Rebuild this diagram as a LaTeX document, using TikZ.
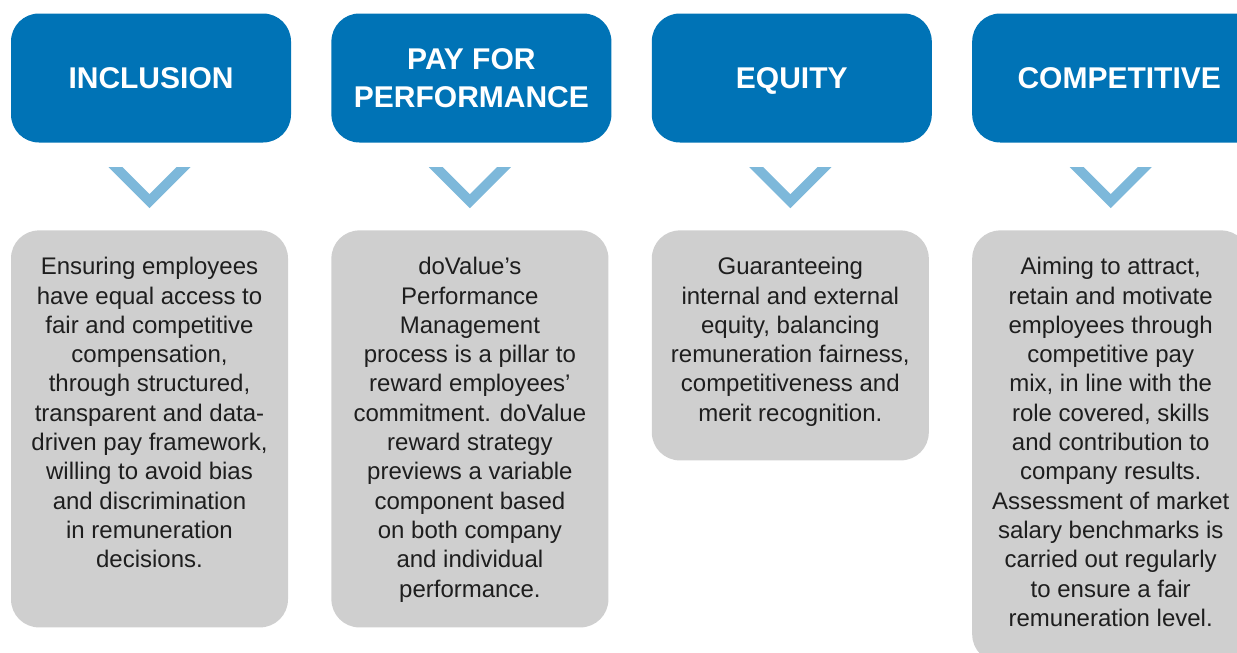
\documentclass[tikz,border=0pt]{standalone}
\usepackage{fontspec}
\setmainfont{Liberation Sans}
\usetikzlibrary{positioning}
\definecolor{headblue}{HTML}{0073B6}
\definecolor{chevblue}{HTML}{7DB8DA}
\definecolor{boxgray}{HTML}{CFCFCF}
\definecolor{textdark}{HTML}{1E1E1E}
\newcommand{\Chevron}[1]{\fill[chevron, shift={(#1.north)}] (-41,63) -- (-27,63) -- (0,36) -- (27,63) -- (41,63) -- (0,22) -- cycle;}
\tikzstyle{head} = [rectangle, rounded corners=28pt, fill=headblue, text=white, inner sep=0pt, minimum width=280pt, minimum height=129pt, text depth=0pt, align=center, font=\fontsize{30}{37.5}\selectfont\bfseries]

\begin{document}
\begin{tikzpicture}[x=1pt, y=1pt,
  box/.style={rectangle, rounded corners=28pt, fill=boxgray, inner sep=0pt, minimum width=277pt, xshift=-1.5pt},
  bodytext/.style={inner sep=0pt, align=center, text=textdark, font=\fontsize{24}{29.3}\selectfont},
  chevron/.style={fill=chevblue}]
\useasboundingbox (0,0) rectangle (1237,-653);

% Headers
\node[head]                       (h1) at (151,-78) {INCLUSION};
\node[head, right = 40pt of h1]   (h2) {PAY FOR\\PERFORMANCE};
\node[head, right = 40pt of h2]   (h3) {EQUITY};
\node[head, right = 40pt of h3, minimum width=294pt] (h4) {COMPETITIVE};

% Body boxes
\node[box, below = 87.5pt of h1, minimum height=397pt]            (b1) {};
\node[box, below = 87.5pt of h2, minimum height=397pt]            (b2) {};
\node[box, below = 87.5pt of h3, minimum height=230pt]            (b3) {};
\node[box, below = 87.5pt of h4, minimum height=432pt, xshift=-7pt] (b4) {};

% Chevrons
\Chevron{b1}
\Chevron{b2}
\Chevron{b3}
\Chevron{b4}

% Texts
\node[bodytext, below = 27pt of b1.north] (t1) {Ensuring employees\\have equal access to\\fair and competitive\\compensation,\\through structured,\\transparent and data-\\driven pay framework,\\willing to avoid bias\\and discrimination\\in remuneration\\decisions.};
\node[bodytext, below = 27pt of b2.north] (t2) {doValue’s\\Performance\\Management\\process is a pillar to\\reward employees’\\commitment. doValue\\reward strategy\\previews a variable\\component based\\on both company\\and individual\\performance.};
\node[bodytext, below = 27pt of b3.north] (t3) {Guaranteeing\\internal and external\\equity, balancing\\remuneration fairness,\\competitiveness and\\merit recognition.};
\node[bodytext, below = 27pt of b4.north] (t4) {Aiming to attract,\\retain and motivate\\employees through\\competitive pay\\mix, in line with the\\role covered, skills\\and contribution to\\company results.\\Assessment of market\\salary benchmarks is\\carried out regularly\\to ensure a fair\\remuneration level.};
\end{tikzpicture}
\end{document}
